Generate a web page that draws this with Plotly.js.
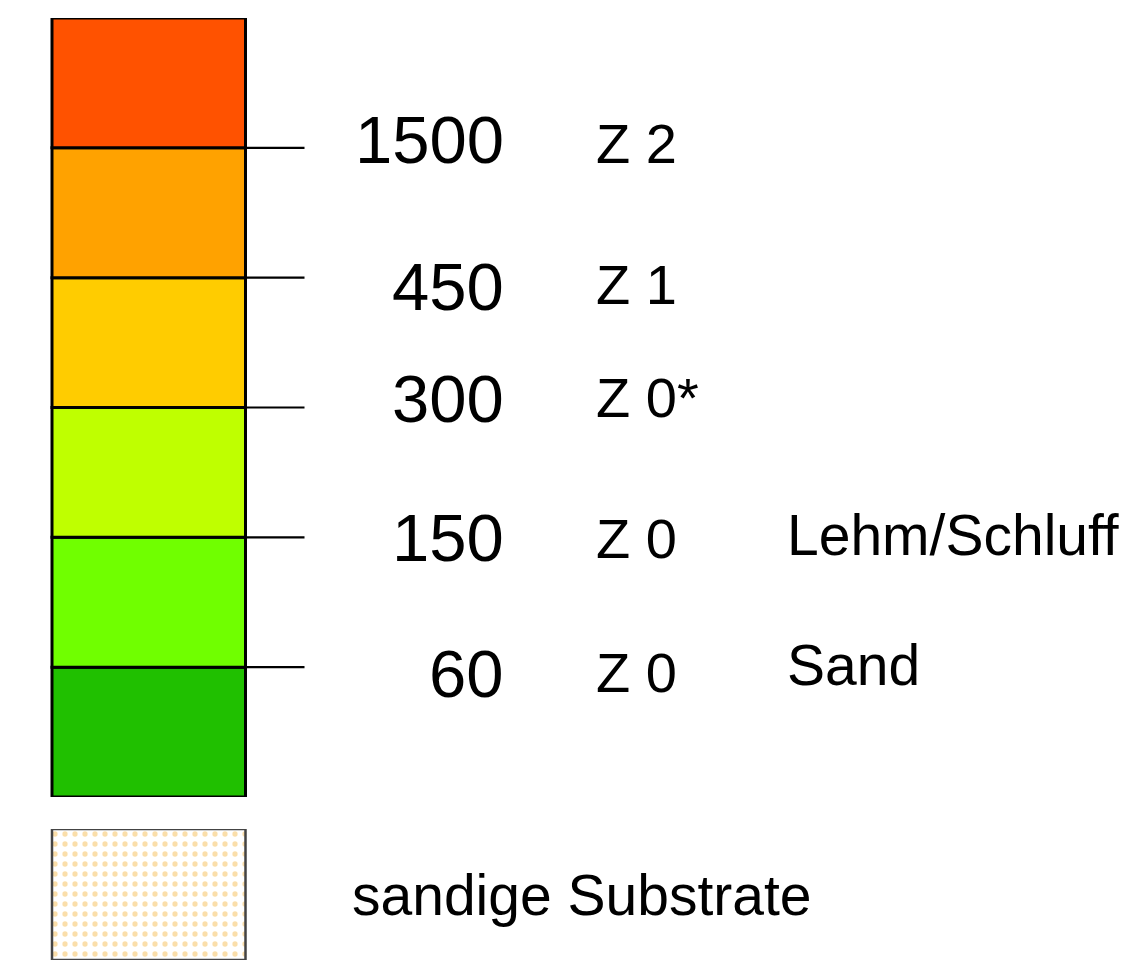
<!DOCTYPE html>
<html>
<head>
<meta charset="utf-8">
<script src="https://cdn.plot.ly/plotly-3.0.1.min.js"></script>
<style>html,body{margin:0;padding:0;background:#fff;}#chart{width:1147px;height:965px;}</style>
</head>
<body>
<div id="chart"></div>
<script>
// Bands from bottom to top
const bandColors = ['#20C000', '#70FF00', '#BFFF00', '#FFCC00', '#FFA200', '#FF5200'];
// Class boundaries from bottom to top (between bands)
const thresholds = ['60', '150', '300', '450', '1500'];
const zones = ['Z 0', 'Z 0', 'Z 0*', 'Z 1', 'Z 2'];
const soils = ['Sand', 'Lehm/Schluff', '', '', ''];
const substrateLabel = 'sandige Substrate';

// layout helpers (pixel nudges of labels)
const numShift = [-6, -0.5, 9, -8.5, 8];
const zoneShift = [-5.5, -1, 10, -7, 4.5];
const soilShift = [2, 2, 0, 0, 0];

const W = 1147, H = 965;
const barLeft = 52, barRight = 245.5;
const pxPerUnit = barRight - barLeft;
const x0 = -0.5 - barLeft / pxPerUnit;
const x1 = x0 + W / pxPerUnit;
const tickLen = 59 / pxPerUnit;

const traces = [];
traces.push({
  type: 'bar',
  x: bandColors.map(() => 0),
  y: bandColors.map(() => 1),
  base: bandColors.map((c, i) => i),
  width: 1,
  marker: {color: bandColors, line: {color: '#000', width: 3}},
  xaxis: 'x', yaxis: 'y',
  hoverinfo: 'skip'
});
const lx = [], ly = [];
thresholds.forEach((t, i) => {
  lx.push(0.5, 0.5 + tickLen, null);
  ly.push(i + 1, i + 1, null);
});
traces.push({
  type: 'scatter', mode: 'lines', x: lx, y: ly,
  line: {color: '#000', width: 2.2}, xaxis: 'x', yaxis: 'y', hoverinfo: 'skip'
});
traces.push({
  type: 'bar', x: [0], y: [1], base: [0], width: 1,
  marker: {
    color: '#ffffff',
    line: {color: '#444', width: 2.5},
    pattern: {shape: '.', fgcolor: '#F6BE55', bgcolor: '#ffffff', size: 10, solidity: 0.22, fillmode: 'overlay'}
  },
  xaxis: 'x', yaxis: 'y2', hoverinfo: 'skip'
});

const annotations = [];
const fam = '"Liberation Sans", Arial, sans-serif';
thresholds.forEach((t, i) => {
  annotations.push({text: t, xref: 'paper', yref: 'y', x: 505 / W, y: i + 1, xanchor: 'right', yanchor: 'middle',
    yshift: numShift[i], showarrow: false, font: {family: fam, size: 67, color: '#000'}, borderpad: 0});
  annotations.push({text: zones[i], xref: 'paper', yref: 'y', x: 595 / W, y: i + 1, xanchor: 'left', yanchor: 'middle',
    yshift: zoneShift[i], showarrow: false, font: {family: fam, size: 56, color: '#000'}, borderpad: 0});
  if (soils[i]) {
    annotations.push({text: soils[i], xref: 'paper', yref: 'y', x: 786 / W, y: i + 1, xanchor: 'left', yanchor: 'middle',
      yshift: soilShift[i], showarrow: false, font: {family: fam, size: 57, color: '#000'}, borderpad: 0});
  }
});
annotations.push({text: substrateLabel, xref: 'paper', yref: 'y2', x: 351 / W, y: 0.5, xanchor: 'left', yanchor: 'middle',
  showarrow: false, font: {family: fam, size: 57, color: '#000'}, borderpad: 0});

const layout = {
  width: W, height: H,
  margin: {l: 0, r: 0, t: 0, b: 0},
  paper_bgcolor: '#fff', plot_bgcolor: '#fff',
  showlegend: false,
  barmode: 'overlay',
  xaxis: {range: [x0, x1], domain: [0, 1], visible: false, fixedrange: true},
  yaxis: {range: [0, 6], domain: [1 - 797 / H, 1 - 18 / H], visible: false, fixedrange: true},
  yaxis2: {range: [0, 1], domain: [1 - 960 / H, 1 - 829 / H], visible: false, fixedrange: true, anchor: 'x'},
  annotations: annotations
};

Plotly.newPlot('chart', traces, layout, {staticPlot: true, displayModeBar: false});
</script>
</body>
</html>
